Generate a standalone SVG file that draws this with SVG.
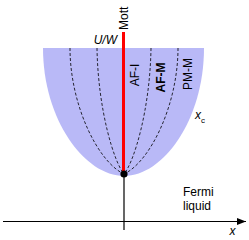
<svg xmlns="http://www.w3.org/2000/svg" width="249" height="240" viewBox="0 0 249 240">
<style>
text{font-family:"Liberation Sans",Arial,sans-serif;font-size:12px;fill:#000}
.it{font-style:italic}
.dash{fill:none;stroke:#000;stroke-width:0.8;stroke-dasharray:3,2}
.ax{stroke:#000;stroke-width:1.2;fill:none}
</style>
<defs>
<marker id="arr" markerWidth="10" markerHeight="8" refX="9" refY="3.5" orient="auto" markerUnits="userSpaceOnUse">
<path d="M0,0 L9,3.5 L0,7 Z" fill="#000"/>
</marker>
</defs>
<g id="region">
<path d="M43,48 C43,120 85,176 124,176 C163,176 204,120 204,48 Z" fill="#b9b9f7"/>
</g>
<g id="connectors">
<path class="dash" d="M70,48 C70,105 98,162 124,174"/>
<path class="dash" d="M97,48 C98,110 114,162 124,174"/>
<path class="dash" d="M178,48 C178,105 150,162 124,174"/>
<path class="dash" d="M151,48 C150,110 134,162 124,174"/>
<line class="ax" x1="3" y1="221.5" x2="246" y2="221.5" marker-end="url(#arr)"/>
<line class="ax" x1="124" y1="174" x2="124" y2="230"/>
<line x1="123.5" y1="32" x2="123.5" y2="174" stroke="#f00" stroke-width="3"/>
</g>
<g id="critical-point"><circle cx="124" cy="174" r="3.6" fill="#000"/></g>
<g id="labels">
<text transform="translate(127.5,30) rotate(-90)">Mott</text>
<text class="it" x="117" y="43.5" text-anchor="end">U/W</text>
<text transform="translate(138.5,75) rotate(-90)" text-anchor="middle">AF-I</text>
<text transform="translate(164.5,77.5) rotate(-90)" text-anchor="middle" font-weight="bold">AF-M</text>
<text transform="translate(192,74) rotate(-90)" text-anchor="middle">PM-M</text>
<text class="it" x="195" y="119">x<tspan font-style="normal" font-size="8" dy="4">c</tspan></text>
<text x="183" y="195.5">Fermi</text>
<text x="183" y="210">liquid</text>
<text class="it" x="229.5" y="235">x</text>
</g>
</svg>
